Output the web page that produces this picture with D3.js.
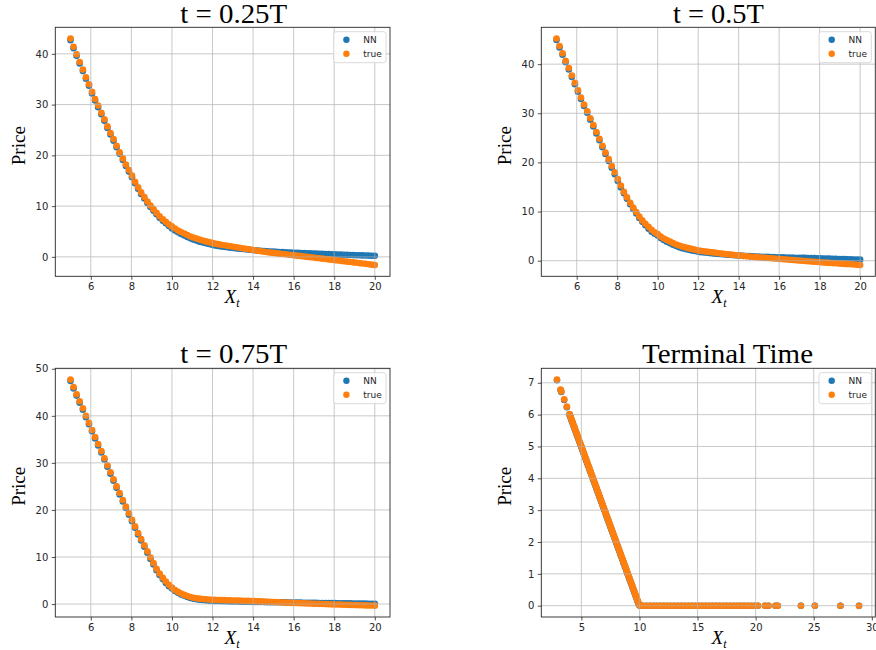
<!DOCTYPE html>
<html><head><meta charset="utf-8">
<script src="https://cdn.jsdelivr.net/npm/d3@7"></script>
<style>body{margin:0;background:#fff}svg{display:block}</style>
</head><body><svg id="chart" width="876" height="650"></svg>
<script>
// ---------- DATA ----------
const xGrid = [
5.00,5.15,5.30,5.45,5.61,5.76,5.91,6.06,6.21,6.36,
6.52,6.67,6.82,6.97,7.12,7.27,7.42,7.58,7.73,7.88,
8.03,8.18,8.33,8.48,8.64,8.79,8.94,9.09,9.24,9.39,
9.55,9.70,9.85,10.00,10.15,10.30,10.45,10.61,10.76,10.91,
11.06,11.21,11.36,11.52,11.67,11.82,11.97,12.12,12.27,12.42,
12.58,12.73,12.88,13.03,13.18,13.33,13.48,13.64,13.79,13.94,
14.09,14.24,14.39,14.55,14.70,14.85,15.00,15.15,15.30,15.45,
15.61,15.76,15.91,16.06,16.21,16.36,16.52,16.67,16.82,16.97,
17.12,17.27,17.42,17.58,17.73,17.88,18.03,18.18,18.33,18.48,
18.64,18.79,18.94,19.09,19.24,19.39,19.55,19.70,19.85,20.00];

const true025 = [
43.0,41.4,39.9,38.4,36.9,35.4,34.0,32.5,31.1,29.8,
28.4,27.1,25.7,24.4,23.2,21.9,20.6,19.4,18.2,17.1,
16.0,14.8,13.7,12.7,11.8,10.9,10.1,9.4,8.7,8.0,
7.4,6.9,6.4,6.0,5.6,5.2,4.9,4.6,4.3,4.0,
3.8,3.6,3.4,3.2,3.05,2.9,2.75,2.6,2.5,2.4,
2.3,2.2,2.1,2.0,1.9,1.8,1.7,1.6,1.5,1.4,
1.3,1.2,1.1,1.0,0.92,0.84,0.78,0.71,0.64,0.57,
0.50,0.43,0.36,0.29,0.22,0.15,0.07,0.00,-0.07,-0.14,
-0.21,-0.28,-0.35,-0.43,-0.50,-0.57,-0.65,-0.72,-0.79,-0.86,
-0.94,-1.01,-1.08,-1.16,-1.23,-1.31,-1.38,-1.46,-1.53,-1.60];
const nn025 = [
42.7,41.1,39.6,38.1,36.6,35.1,33.7,32.2,30.8,29.5,
28.1,26.8,25.4,24.1,22.9,21.6,20.3,19.1,17.9,16.8,
15.7,14.5,13.4,12.4,11.5,10.6,9.8,9.1,8.4,7.7,
7.1,6.6,6.1,5.6,5.2,4.85,4.5,4.2,3.9,3.65,
3.4,3.2,3.0,2.85,2.7,2.55,2.4,2.25,2.15,2.05,
1.97,1.89,1.81,1.74,1.67,1.60,1.54,1.48,1.42,1.36,
1.30,1.25,1.20,1.15,1.11,1.07,1.03,0.99,0.96,0.93,
0.90,0.87,0.85,0.82,0.79,0.76,0.74,0.71,0.68,0.66,
0.63,0.61,0.58,0.56,0.53,0.51,0.48,0.46,0.44,0.42,
0.40,0.37,0.35,0.33,0.31,0.29,0.27,0.25,0.23,0.21];

const true050 = [
45.2,43.7,42.2,40.7,39.2,37.7,36.2,34.7,33.2,31.8,
30.4,29.0,27.6,26.2,24.8,23.4,22.0,20.7,19.3,18.0,
16.6,15.3,14.0,12.9,11.8,10.8,9.9,9.0,8.2,7.5,
6.9,6.3,5.8,5.4,4.9,4.5,4.2,3.9,3.6,3.3,
3.1,2.9,2.7,2.55,2.4,2.25,2.1,2.0,1.92,1.84,
1.76,1.68,1.60,1.52,1.44,1.37,1.30,1.23,1.16,1.09,
1.02,0.96,0.90,0.84,0.78,0.73,0.68,0.63,0.58,0.53,
0.48,0.43,0.38,0.33,0.28,0.23,0.18,0.13,0.08,0.03,
-0.02,-0.07,-0.12,-0.17,-0.22,-0.27,-0.32,-0.36,-0.40,-0.45,
-0.49,-0.53,-0.57,-0.61,-0.66,-0.70,-0.74,-0.79,-0.83,-0.88];
const nn050 = [
44.9,43.4,41.9,40.4,38.9,37.4,35.9,34.4,32.9,31.5,
30.1,28.7,27.3,25.9,24.5,23.1,21.7,20.3,18.9,17.6,
16.2,14.9,13.7,12.6,11.5,10.5,9.6,8.7,7.9,7.2,
6.5,5.9,5.5,5.1,4.6,4.2,3.85,3.55,3.25,3.0,
2.75,2.55,2.38,2.22,2.08,1.96,1.85,1.75,1.67,1.60,
1.53,1.47,1.41,1.35,1.30,1.25,1.20,1.15,1.10,1.06,
1.02,0.98,0.95,0.92,0.89,0.86,0.83,0.81,0.79,0.77,
0.75,0.73,0.71,0.69,0.67,0.65,0.63,0.62,0.60,0.59,
0.57,0.56,0.54,0.53,0.51,0.49,0.47,0.45,0.43,0.41,
0.39,0.37,0.35,0.33,0.31,0.29,0.27,0.25,0.23,0.21];

const true075 = [
47.7,46.1,44.6,43.1,41.6,40.0,38.5,37.0,35.5,34.0,
32.5,31.0,29.5,28.0,26.5,25.0,23.6,22.1,20.7,19.3,
17.9,16.5,15.1,13.8,12.5,11.2,9.9,8.7,7.5,6.5,
5.6,4.8,4.1,3.5,3.0,2.6,2.25,1.95,1.7,1.5,
1.35,1.25,1.15,1.08,1.02,0.97,0.93,0.89,0.87,0.85,
0.83,0.81,0.79,0.77,0.75,0.73,0.71,0.69,0.67,0.65,
0.62,0.59,0.56,0.53,0.50,0.47,0.44,0.41,0.37,0.34,
0.31,0.28,0.25,0.22,0.20,0.18,0.15,0.13,0.11,0.08,
0.06,0.04,0.01,-0.01,-0.03,-0.06,-0.08,-0.10,-0.12,-0.14,
-0.16,-0.18,-0.20,-0.22,-0.24,-0.26,-0.28,-0.30,-0.32,-0.34];
const nn075 = [
47.4,45.8,44.3,42.8,41.3,39.7,38.2,36.7,35.2,33.7,
32.2,30.7,29.2,27.7,26.2,24.7,23.3,21.8,20.4,19.0,
17.6,16.2,14.8,13.5,12.2,10.9,9.6,8.4,7.2,6.2,
5.3,4.5,3.8,3.3,2.8,2.4,2.05,1.75,1.5,1.3,
1.15,1.03,0.93,0.85,0.79,0.74,0.70,0.67,0.65,0.63,
0.61,0.59,0.57,0.55,0.54,0.52,0.51,0.49,0.48,0.47,
0.45,0.44,0.43,0.42,0.41,0.40,0.39,0.38,0.37,0.36,
0.35,0.34,0.33,0.32,0.31,0.30,0.29,0.28,0.27,0.26,
0.25,0.24,0.23,0.22,0.21,0.20,0.19,0.18,0.17,0.16,
0.15,0.14,0.13,0.12,0.11,0.10,0.09,0.08,0.07,0.06];

const termX = [
2.90,3.21,3.27,3.52,3.75,3.98,4.03,4.08,4.14,4.19,
4.25,4.31,4.38,4.44,4.50,4.57,4.62,4.69,4.76,4.83,
4.90,4.97,5.02,5.08,5.15,5.21,5.28,5.35,5.41,5.48,
5.55,5.61,5.68,5.74,5.80,5.87,5.93,6.00,6.06,6.13,
6.19,6.26,6.32,6.39,6.45,6.52,6.58,6.65,6.71,6.78,
6.84,6.91,6.97,7.04,7.10,7.17,7.23,7.30,7.36,7.43,
7.49,7.56,7.62,7.69,7.75,7.82,7.88,7.95,8.01,8.08,
8.14,8.21,8.27,8.34,8.40,8.47,8.53,8.60,8.66,8.73,
8.79,8.86,8.92,8.99,9.05,9.12,9.18,9.25,9.31,9.38,
9.44,9.51,9.57,9.64,9.70,9.77,9.83,9.90,9.96,
10.05,10.3,10.6,10.9,11.2,11.5,11.8,12.1,12.4,12.7,
13.0,13.3,13.6,13.9,14.2,14.5,14.8,15.1,15.4,15.7,
16.0,16.3,16.6,16.9,17.2,17.5,17.8,18.1,18.4,18.7,
19.0,19.3,19.6,19.9,20.2,20.8,21.1,21.7,21.9,23.9,
25.1,27.3,28.9];
const termTrue = [
7.10,6.79,6.73,6.48,6.25,6.02,5.97,5.92,5.86,5.81,
5.75,5.69,5.62,5.56,5.50,5.43,5.38,5.31,5.24,5.17,
5.10,5.03,4.98,4.92,4.85,4.79,4.72,4.65,4.59,4.52,
4.45,4.39,4.32,4.26,4.20,4.13,4.07,4.00,3.94,3.87,
3.81,3.74,3.68,3.61,3.55,3.48,3.42,3.35,3.29,3.22,
3.16,3.09,3.03,2.96,2.90,2.83,2.77,2.70,2.64,2.57,
2.51,2.44,2.38,2.31,2.25,2.18,2.12,2.05,1.99,1.92,
1.86,1.79,1.73,1.66,1.60,1.53,1.47,1.40,1.34,1.27,
1.21,1.14,1.08,1.01,0.95,0.88,0.82,0.75,0.69,0.62,
0.56,0.49,0.43,0.36,0.30,0.23,0.17,0.10,0.04,
0,0,0,0,0,0,0,0,0,0,
0,0,0,0,0,0,0,0,0,0,
0,0,0,0,0,0,0,0,0,0,
0,0,0,0,0,0,0,0,0,0,
0,0,0];
const termNN = [
7.08,6.77,6.71,6.46,6.23,6.00,5.95,5.90,5.84,5.79,
5.73,5.67,5.60,5.54,5.48,5.41,5.36,5.29,5.22,5.15,
5.08,5.01,4.96,4.90,4.83,4.77,4.70,4.63,4.57,4.50,
4.43,4.37,4.30,4.24,4.18,4.11,4.05,3.98,3.92,3.85,
3.79,3.72,3.66,3.59,3.53,3.46,3.40,3.33,3.27,3.20,
3.14,3.07,3.01,2.94,2.88,2.81,2.75,2.68,2.62,2.55,
2.49,2.42,2.36,2.29,2.23,2.16,2.10,2.03,1.97,1.90,
1.84,1.77,1.71,1.64,1.58,1.51,1.45,1.38,1.32,1.25,
1.19,1.12,1.06,0.99,0.93,0.86,0.80,0.73,0.67,0.60,
0.54,0.47,0.41,0.34,0.28,0.21,0.15,0.08,0.02,
0,0,0,0,0,0,0,0,0,0,
0,0,0,0,0,0,0,0,0,0,
0,0,0,0,0,0,0,0,0,0,
0,0,0,0,0,0,0,0,0,0,
0,0,0];

const seriesNames = ["NN", "true"];
const xTicksA = [6,8,10,12,14,16,18,20];
const xTicksTerm = [5,10,15,20,25,30];
const yTicksA = [0,10,20,30,40];
const yTicksC = [0,10,20,30,40,50];
const yTicksTerm = [0,1,2,3,4,5,6,7];
const titles = ["t = 0.25T", "t = 0.5T", "t = 0.75T", "Terminal Time"];

// ---------- LAYOUT ----------
const colors = {NN: "#1f77b4", true: "#ff7f0e"};
const panels = [
  {title: titles[0], box: [55.3, 27.3, 390, 276.3], xDom: [4.25, 20.75], yDom: [-3.83, 45.23],
   xTicks: xTicksA, yTicks: yTicksA, xs: xGrid, xsNN: xGrid, nn: nn025, tr: true025,
   titleX: 233.7, titleY: 22.7, titleW: 107, priceX: 25, priceY: 145.7, xlabX: 232, xlabY: 303.3},
  {title: titles[1], box: [541.3, 27.3, 875.3, 276.3], xDom: [4.25, 20.75], yDom: [-3.18, 47.5],
   xTicks: xTicksA, yTicks: yTicksA, xs: xGrid, xsNN: xGrid, nn: nn050, tr: true050,
   titleX: 718.4, titleY: 22.7, titleW: 91, priceX: 511.3, priceY: 145.7, xlabX: 719, xlabY: 303.3},
  {title: titles[2], box: [55.3, 368.3, 390, 617], xDom: [4.25, 20.75], yDom: [-2.75, 50.1],
   xTicks: xTicksA, yTicks: yTicksC, xs: xGrid, xsNN: xGrid, nn: nn075, tr: true075,
   titleX: 233.7, titleY: 363.3, titleW: 107, priceX: 25, priceY: 486.3, xlabX: 232, xlabY: 644},
  {title: titles[3], box: [541.3, 368.3, 875.3, 617], xDom: [1.55, 30.3], yDom: [-0.355, 7.455],
   xTicks: xTicksTerm, yTicks: yTicksTerm, xs: termX, xsNN: termX, nn: termNN, tr: termTrue,
   titleX: 727.5, titleY: 363.3, titleW: 171, priceX: 511.3, priceY: 486.3, xlabX: 719, xlabY: 644}
];

const svg = d3.select("#chart");
svg.append("rect").attr("width", 876).attr("height", 650).attr("fill", "#fff");

const tickFont = "DejaVu Sans, sans-serif";
const serif = "Liberation Serif, Times New Roman, serif";

panels.forEach((p, pi) => {
  const [L, T, R, B] = p.box;
  const x = d3.scaleLinear().domain(p.xDom).range([L, R]);
  const y = d3.scaleLinear().domain(p.yDom).range([B, T]);
  const g = svg.append("g");
  const clipId = "clip" + pi;
  svg.append("clipPath").attr("id", clipId).append("rect")
    .attr("x", L).attr("y", T).attr("width", R - L).attr("height", B - T);

  const plot = g.append("g").attr("clip-path", `url(#${clipId})`);
  // NN first, true on top
  plot.append("g").selectAll("circle").data(p.nn).join("circle")
    .attr("cx", (d, i) => x(p.xsNN[i])).attr("cy", d => y(d)).attr("r", 3.3)
    .attr("fill", colors.NN);
  plot.append("g").selectAll("circle").data(p.tr).join("circle")
    .attr("cx", (d, i) => x(p.xs[i])).attr("cy", d => y(d)).attr("r", 3.3)
    .attr("fill", colors.true);

  // grid (drawn above the markers, as matplotlib does by default)
  const grid = g.append("g").attr("stroke", "#b0b0b0").attr("stroke-width", 0.8).attr("opacity", 0.85);
  grid.selectAll("line.vx").data(p.xTicks.filter(t => x(t) <= R && x(t) >= L)).join("line")
    .attr("x1", d => x(d)).attr("x2", d => x(d)).attr("y1", T).attr("y2", B);
  grid.selectAll("line.hy").data(p.yTicks.filter(t => y(t) >= T - 0.5 && y(t) <= B)).join("line")
    .attr("x1", L).attr("x2", R).attr("y1", d => y(d)).attr("y2", d => y(d));

  // axes
  const xAxis = d3.axisBottom(x).tickValues(p.xTicks).tickSize(3.5).tickPadding(3.5).tickFormat(d3.format("d"));
  const yAxis = d3.axisLeft(y).tickValues(p.yTicks.filter(t => y(t) >= T - 0.5)).tickSize(3.5).tickPadding(3.5).tickFormat(d3.format("d"));
  const gx = g.append("g").attr("transform", `translate(0,${B})`).call(xAxis);
  const gy = g.append("g").attr("transform", `translate(${L},0)`).call(yAxis);
  [gx, gy].forEach(a => {
    a.select(".domain").remove();
    a.selectAll("line").attr("stroke", "#262626").attr("stroke-width", 0.8);
    a.selectAll("text").attr("font-family", tickFont).attr("font-size", 10).attr("fill", "#262626");
  });

  // spines
  g.append("rect").attr("x", L).attr("y", T).attr("width", R - L).attr("height", B - T)
    .attr("fill", "none").attr("stroke", "#262626").attr("stroke-width", 0.9);

  // legend
  const lw = 52.3, lh = 31;
  const lg = g.append("g").attr("transform", `translate(${R - 4 - lw},${T + 4.4})`);
  lg.append("rect").attr("width", lw).attr("height", lh).attr("rx", 2.5)
    .attr("fill", "#fff").attr("fill-opacity", 0.85).attr("stroke", "#d0d0d0").attr("stroke-width", 0.8);
  seriesNames.forEach((s, i) => {
    lg.append("circle").attr("cx", 12.7).attr("cy", 8 + i * 14).attr("r", 3.2).attr("fill", colors[s]);
    lg.append("text").attr("x", 29.6).attr("y", 8 + i * 14 + 3.3).text(s)
      .attr("font-family", tickFont).attr("font-size", 9).attr("fill", "#262626");
  });

  // title
  svg.append("text").attr("x", p.titleX).attr("y", p.titleY).attr("text-anchor", "middle")
    .attr("font-family", serif).attr("font-size", 27).attr("fill", "#000")
    .attr("textLength", p.titleW).attr("lengthAdjust", "spacingAndGlyphs")
    .text(p.title);

  // y label
  svg.append("text").attr("transform", `translate(${p.priceX},${p.priceY}) rotate(-90)`)
    .attr("text-anchor", "middle").attr("font-family", serif).attr("font-size", 19)
    .attr("fill", "#000").text("Price");

  // x label X_t
  const xl = svg.append("text").attr("x", p.xlabX).attr("y", p.xlabY).attr("text-anchor", "middle")
    .attr("font-family", serif).attr("font-size", 19).attr("font-style", "italic").attr("fill", "#000");
  xl.append("tspan").text("X");
  xl.append("tspan").attr("font-size", 12).attr("dy", 4).text("t");
});
</script></body></html>
